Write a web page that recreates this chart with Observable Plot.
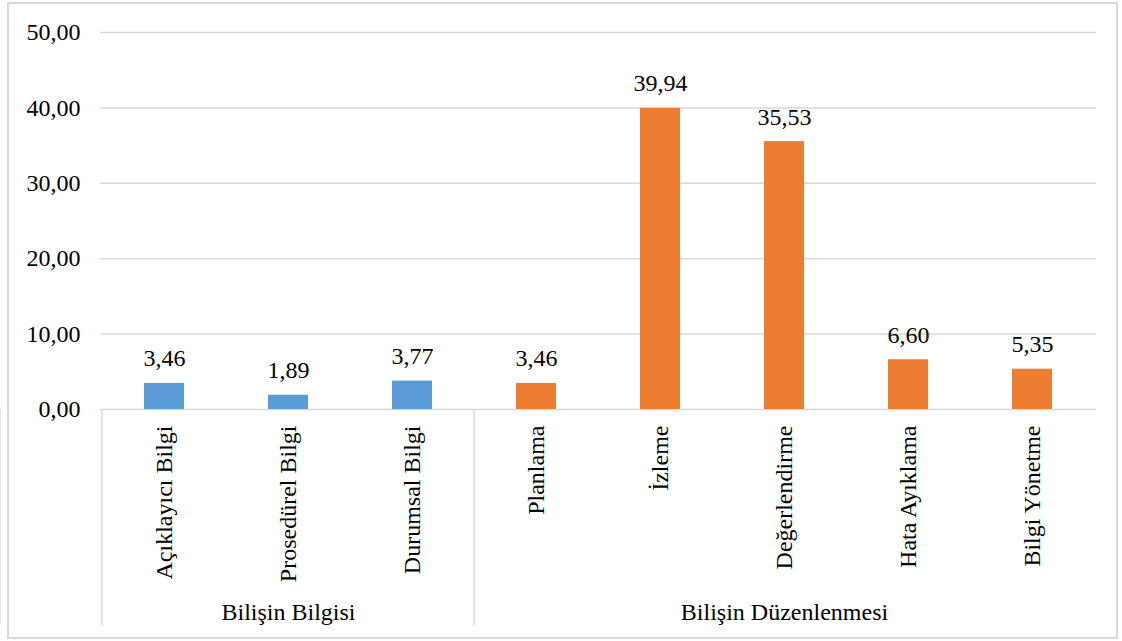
<!DOCTYPE html>
<html><head><meta charset="utf-8">
<script src="https://cdn.jsdelivr.net/npm/d3@7"></script>
<script src="https://cdn.jsdelivr.net/npm/@observablehq/plot@0.6"></script>
<style>
body{margin:0;background:#fff;font-family:"Liberation Serif",serif;}
#wrap{position:relative;width:1122px;height:641px;}
#border{position:absolute;left:7px;top:2px;width:1111px;height:637px;border:2px solid #d9d9d9;box-sizing:border-box;pointer-events:none;}
</style></head><body><div id="wrap"><div id="chart"></div><div id="border"></div></div>
<script>
const categories = ["Açıklayıcı Bilgi","Prosedürel Bilgi","Durumsal Bilgi","Planlama","İzleme","Değerlendirme","Hata Ayıklama","Bilgi Yönetme"];
const categoryGroup = ["Bilişin Bilgisi","Bilişin Bilgisi","Bilişin Bilgisi","Bilişin Düzenlenmesi","Bilişin Düzenlenmesi","Bilişin Düzenlenmesi","Bilişin Düzenlenmesi","Bilişin Düzenlenmesi"];
const values = [3.46, 1.89, 3.77, 3.46, 39.94, 35.53, 6.60, 5.35];
const groups = ["Bilişin Bilgisi","Bilişin Düzenlenmesi"];
const groupMiddle = ["Prosedürel Bilgi","Değerlendirme"];
const groupFirst = ["Açıklayıcı Bilgi","Planlama"];
const groupColors = ["#5B9BD5","#ED7D31"];
const yTicks = [0,10,20,30,40,50];

const data = categories.map((c,i)=>({cat:c, group:categoryGroup[i], value:values[i]}));
const groupData = groups.map((g,i)=>({name:g, mid:groupMiddle[i]}));
const fmt = d => d.toFixed(2).replace(".", ",");
const grid = "#d9d9d9";
const serif = "Liberation Serif";

const separators = (index, scales, values, dims) => {
  const x = scales.x, y = scales.y;
  const bw = x.bandwidth;
  const g = d3.create("svg:g").attr("stroke", grid).attr("stroke-width", 1.5);
  const xs = groupFirst.map(c => x(c)).concat([x(categories[categories.length-1]) + bw]);
  const y0 = y(0);
  for (const xx of xs) {
    g.append("line").attr("x1", xx).attr("x2", xx).attr("y1", y0).attr("y2", y0 + 216);
  }
  return g.node();
};

const chart = Plot.plot({
  width: 1122,
  height: 641,
  marginLeft: 100,
  marginRight: 26,
  marginTop: 32,
  marginBottom: 232,
  style: {fontFamily: serif, fontSize: "24px", color: "black", background: "white"},
  x: {domain: categories, padding: 0},
  y: {domain: [0, 50]},
  color: {domain: groups, range: groupColors},
  marks: [
    Plot.ruleY(yTicks, {stroke: grid, strokeWidth: 1.5}),
    Plot.barY(data, {x: "cat", y: "value", fill: "group", insetLeft: 42, insetRight: 42}),
    Plot.text(data, {x: "cat", y: "value", text: d => fmt(d.value), lineAnchor: "bottom", dy: -17}),
    Plot.axisY({ticks: yTicks, tickFormat: fmt, tickSize: 0, tickPadding: 20, label: null}),
    Plot.axisX({tickRotate: -90, tickSize: 0, tickPadding: 16, label: null}),
    separators,
    Plot.text(groupData, {x: "mid", frameAnchor: "bottom", text: "name", lineAnchor: "bottom", dy: 210})
  ]
});
document.getElementById("chart").appendChild(chart);
</script>
</body></html>
